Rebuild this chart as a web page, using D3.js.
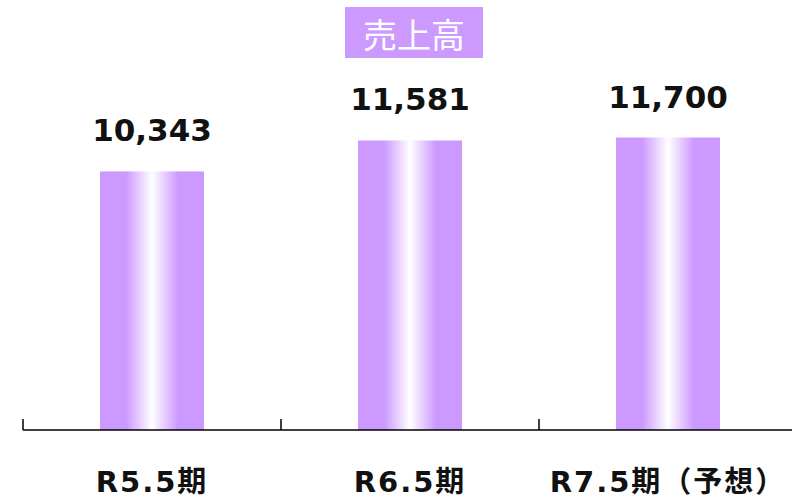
<!DOCTYPE html>
<html>
<head>
<meta charset="utf-8">
<script src="https://cdn.jsdelivr.net/npm/d3@7"></script>
<style>
  body { margin: 0; background: #fff; }
  svg { display: block; }
</style>
</head>
<body>
<script>
// données du graphe
const categories = ['R5.5期', 'R6.5期', 'R7.5期（予想）'];
const sales = [10343, 11581, 11700];
const title = '売上高';

const W = 792, H = 501;
const purple = '#cc99ff';

const svg = d3.select('body').append('svg')
    .attr('width', W)
    .attr('height', H);

// dégradé horizontal des barres
const grad = svg.append('defs').append('linearGradient')
    .attr('id', 'barGrad')
    .attr('x1', '0%').attr('x2', '100%')
    .attr('y1', '0%').attr('y2', '0%');
[[0, purple], [0.25, purple], [0.5, '#ffffff'], [0.75, purple], [1, purple]]
    .forEach(([o, c]) => grad.append('stop').attr('offset', o).attr('stop-color', c));

const x = d3.scaleBand()
    .domain(categories)
    .range([23, 797])
    .paddingInner(0)
    .paddingOuter(0);

const barW = 104;

const y = d3.scaleLinear()
    .domain([0, 17200])
    .range([430, 0]);

// barres
svg.selectAll('rect.bar')
    .data(sales)
    .join('rect')
    .attr('class', 'bar')
    .attr('x', (d, i) => x(categories[i]) + x.bandwidth() / 2 - barW / 2)
    .attr('width', barW)
    .attr('y', d => y(d))
    .attr('height', d => y(0) - y(d))
    .attr('fill', 'url(#barGrad)');

// valeurs
svg.selectAll('text.val')
    .data(sales)
    .join('text')
    .attr('class', 'val')
    .attr('x', (d, i) => x(categories[i]) + x.bandwidth() / 2)
    .attr('y', d => y(d) - 30)
    .attr('text-anchor', 'middle')
    .style('font-family', 'Verdana, "DejaVu Sans", sans-serif')
    .style('font-weight', 'bold')
    .style('font-size', '31px')
    .style('fill', '#111')
    .text(d => d3.format(',')(d));

// axe X
const axis = svg.append('g')
    .attr('transform', `translate(0, ${y(0)})`)
    .call(d3.axisBottom(x).tickSize(0).tickFormat(''));
axis.select('.domain').remove();
axis.append('line')
    .attr('x1', 23).attr('x2', 797)
    .attr('stroke', '#000').attr('stroke-width', 1.5);
axis.selectAll('line.sep')
    .data(categories)
    .join('line')
    .attr('class', 'sep')
    .attr('x1', d => x(d)).attr('x2', d => x(d))
    .attr('y1', -11).attr('y2', 0)
    .attr('stroke', '#000').attr('stroke-width', 1.5);

// libellés des catégories
svg.selectAll('text.cat')
    .data(categories)
    .join('text')
    .attr('class', 'cat')
    .attr('x', d => x(d) + x.bandwidth() / 2)
    .attr('y', 492)
    .attr('text-anchor', 'middle')
    .style('font-family', '"DejaVu Sans", "Noto Sans CJK JP", sans-serif')
    .style('font-weight', 'bold')
    .style('font-size', '29px')
    .style('letter-spacing', '2px')
    .style('fill', '#111')
    .text(d => d);

// titre
svg.append('rect')
    .attr('x', 345).attr('y', 7)
    .attr('width', 138).attr('height', 51)
    .attr('fill', purple);
svg.append('text')
    .attr('x', 414).attr('y', 48)
    .attr('text-anchor', 'middle')
    .style('font-family', '"Noto Sans CJK JP", sans-serif')
    .style('font-size', '34px')
    .style('fill', '#fff')
    .text(title);
</script>
</body>
</html>
